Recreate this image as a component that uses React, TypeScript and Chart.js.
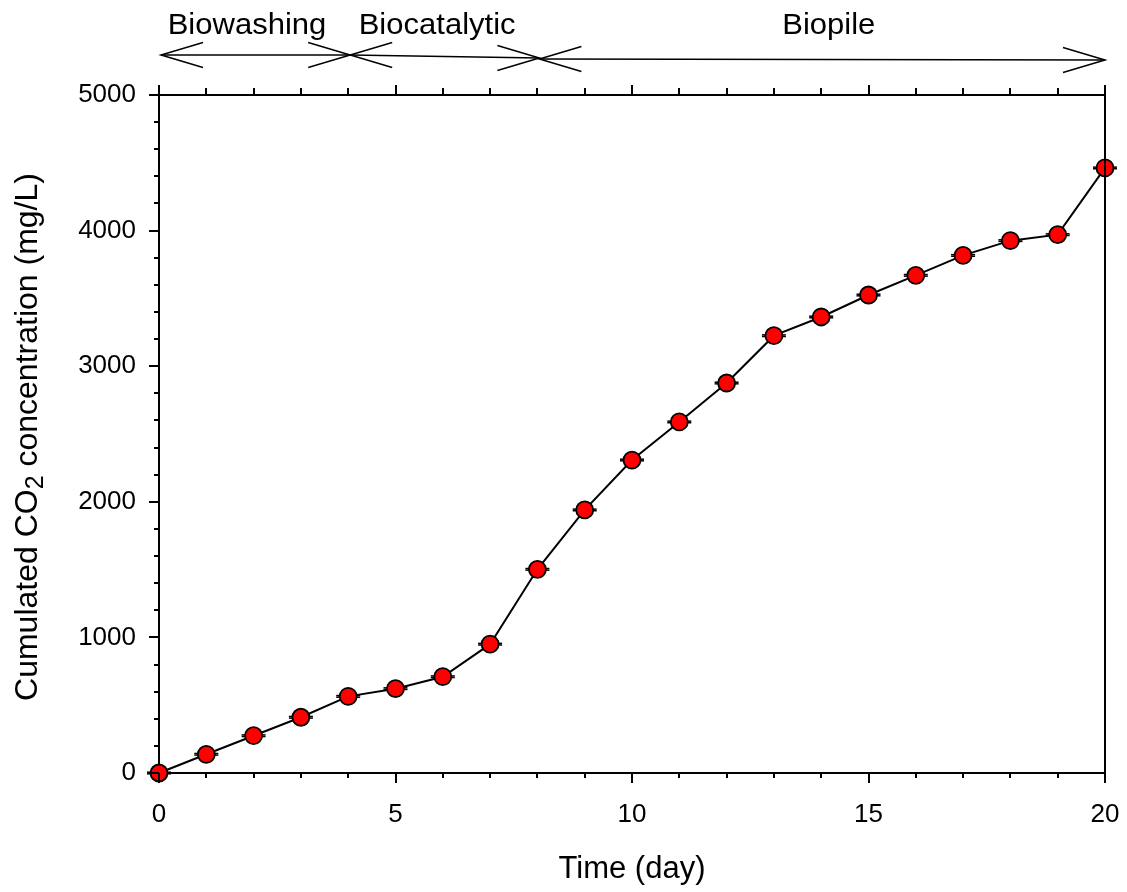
import React, { useEffect, useRef } from 'react';
import { Chart, registerables } from 'chart.js';
Chart.register(...registerables);

const days = [0, 1, 2, 3, 4, 5, 6, 7, 8, 9, 10, 11, 12, 13, 14, 15, 16, 17, 18, 19, 20];
const co2 = [0, 138, 275, 411, 565, 622, 710, 950, 1502, 1940, 2308, 2589, 2876, 3225, 3363, 3525, 3670, 3817, 3926, 3970, 4462];
const co2Err = [6, 6, 6, 6, 6, 6, 6, 6, 6, 6, 6, 6, 6, 6, 6, 6, 6, 6, 6, 6, 6];
const xTicks = [0, 5, 10, 15, 20];
const yTicks = [0, 1000, 2000, 3000, 4000, 5000];
const phaseNames = ['Biowashing', 'Biocatalytic', 'Biopile'];
const phaseStart = [0, 4, 8];
const phaseEnd = [4, 8, 20];
const phaseLabelAt = [1.86, 5.88, 14.16];
const xTitle = 'Time (day)';
const yTitleParts = ['Cumulated CO', '2', ' concentration (mg/L)'];

const FONT = "'Liberation Sans', Arial, sans-serif";

const overlay = {
  id: 'overlay',
  beforeDatasetsDraw(chart: any) {
    const { ctx, scales: { x, y } } = chart;
    ctx.save();
    ctx.strokeStyle = '#000';
    ctx.lineWidth = 1.5;
    days.forEach((d, i) => {
      const px = x.getPixelForValue(d);
      [co2[i] - co2Err[i], co2[i] + co2Err[i]].forEach((v) => {
        const py = y.getPixelForValue(v);
        ctx.beginPath();
        ctx.moveTo(px - 12, py);
        ctx.lineTo(px + 12, py);
        ctx.stroke();
      });
    });
    ctx.restore();
  },
  afterDraw(chart: any) {
    const { ctx, chartArea: { left, right, top, bottom }, scales: { x, y } } = chart;
    ctx.save();
    ctx.strokeStyle = '#000';
    ctx.lineWidth = 2;
    ctx.lineCap = 'butt';
    ctx.beginPath();
    ctx.moveTo(left - 1, top);
    ctx.lineTo(right, top);
    ctx.lineTo(right, bottom + 1);
    ctx.stroke();
    for (let d = 0; d <= 20; d += 1) {
      const px = Math.round(x.getPixelForValue(d));
      const major = d % 5 === 0;
      ctx.beginPath();
      ctx.moveTo(px, bottom);
      ctx.lineTo(px, bottom + (major ? 10 : 5));
      ctx.moveTo(px, top);
      ctx.lineTo(px, top - (major ? 10 : 7));
      ctx.stroke();
    }
    for (let v = 0; v <= 5000; v += 200) {
      const py = Math.round(y.getPixelForValue(v));
      const major = v % 1000 === 0;
      ctx.beginPath();
      ctx.moveTo(left, py);
      ctx.lineTo(left - (major ? 10 : 5), py);
      ctx.stroke();
    }
    const arrowY = [[55, 55], [55, 58], [59, 60]];
    ctx.lineWidth = 1.5;
    const head = (tx: number, ty: number, dir: number) => {
      ctx.beginPath();
      ctx.moveTo(tx + dir * 42, ty - 12.5);
      ctx.lineTo(tx, ty);
      ctx.lineTo(tx + dir * 42, ty + 12.5);
      ctx.stroke();
    };
    phaseNames.forEach((name, i) => {
      const x0 = x.getPixelForValue(phaseStart[i]) + 2;
      const x1 = x.getPixelForValue(phaseEnd[i]) + (i === 2 ? 0 : 2);
      const [y0, y1] = arrowY[i];
      ctx.beginPath();
      ctx.moveTo(x0, y0);
      ctx.lineTo(x1, y1);
      ctx.stroke();
      head(x0, y0, 1);
      head(x1, y1, -1);
      const cx = x.getPixelForValue(phaseLabelAt[i]);
      ctx.save();
      ctx.fillStyle = '#000';
      ctx.font = `29px ${FONT}`;
      ctx.textAlign = 'center';
      ctx.textBaseline = 'alphabetic';
      ctx.translate(cx, 34);
      ctx.scale(1.07, 1);
      ctx.fillText(name, 0, 0);
      ctx.restore();
    });
    ctx.fillStyle = '#000';
    ctx.font = `31px ${FONT}`;
    ctx.textAlign = 'center';
    ctx.textBaseline = 'alphabetic';
    ctx.fillText(xTitle, (left + right) / 2, 878);
    ctx.save();
    ctx.translate(37, 437);
    ctx.rotate(-Math.PI / 2);
    const mainFont = `32px ${FONT}`;
    const subFont = `25px ${FONT}`;
    ctx.font = mainFont;
    const w0 = ctx.measureText(yTitleParts[0]).width;
    const w2 = ctx.measureText(yTitleParts[2]).width;
    ctx.font = subFont;
    const w1 = ctx.measureText(yTitleParts[1]).width;
    const total = w0 + w1 + w2;
    let cur = -total / 2;
    ctx.textAlign = 'left';
    ctx.font = mainFont;
    ctx.fillText(yTitleParts[0], cur, 0);
    cur += w0;
    ctx.font = subFont;
    ctx.fillText(yTitleParts[1], cur, 6);
    cur += w1;
    ctx.font = mainFont;
    ctx.fillText(yTitleParts[2], cur, 0);
    ctx.restore();
    ctx.restore();
  },
};

export default function App() {
  const ref = useRef<HTMLCanvasElement | null>(null);
  useEffect(() => {
    if (!ref.current) return;
    const chart = new Chart(ref.current, {
      type: 'line',
      data: {
        datasets: [
          {
            data: days.map((d, i) => ({ x: d, y: co2[i] })),
            borderColor: '#000',
            borderWidth: 2,
            pointRadius: 8.5,
            pointBackgroundColor: '#ff0000',
            pointBorderColor: '#000',
            pointBorderWidth: 1.8,
            tension: 0,
            clip: false as any,
          },
        ],
      },
      options: {
        animation: false,
        responsive: true,
        maintainAspectRatio: false,
        layout: { padding: { top: 95, right: 22, left: 0, bottom: 0 }, autoPadding: false },
        plugins: { legend: { display: false }, tooltip: { enabled: false } },
        scales: {
          x: {
            type: 'linear',
            min: 0,
            max: 20,
            grid: { display: false },
            border: { display: true, color: '#000', width: 2 },
            afterBuildTicks: (s: any) => {
              s.ticks = xTicks.map((v) => ({ value: v }));
            },
            afterFit: (s: any) => {
              s.height = 119;
              s.paddingLeft = 0;
              s.paddingRight = 0;
            },
            ticks: {
              color: '#000',
              font: { family: FONT, size: 26 },
              padding: 18,
              maxRotation: 0,
              autoSkip: false,
              callback: (v: any) => String(v),
            },
          },
          y: {
            type: 'linear',
            min: 0,
            max: 5000,
            grid: { display: false },
            border: { display: true, color: '#000', width: 2 },
            afterBuildTicks: (s: any) => {
              s.ticks = yTicks.map((v) => ({ value: v }));
            },
            afterFit: (s: any) => {
              s.width = 159;
              s.paddingTop = 0;
              s.paddingBottom = 0;
            },
            ticks: {
              color: '#000',
              font: { family: FONT, size: 26 },
              padding: 15,
              autoSkip: false,
              callback: (v: any) => String(v),
            },
          },
        },
      },
      plugins: [overlay],
    });
    return () => chart.destroy();
  }, []);
  return (
    <div style={{ position: 'absolute', left: 0, top: 0, width: 1127, height: 892, background: '#fff' }}>
      <canvas ref={ref} />
    </div>
  );
}
